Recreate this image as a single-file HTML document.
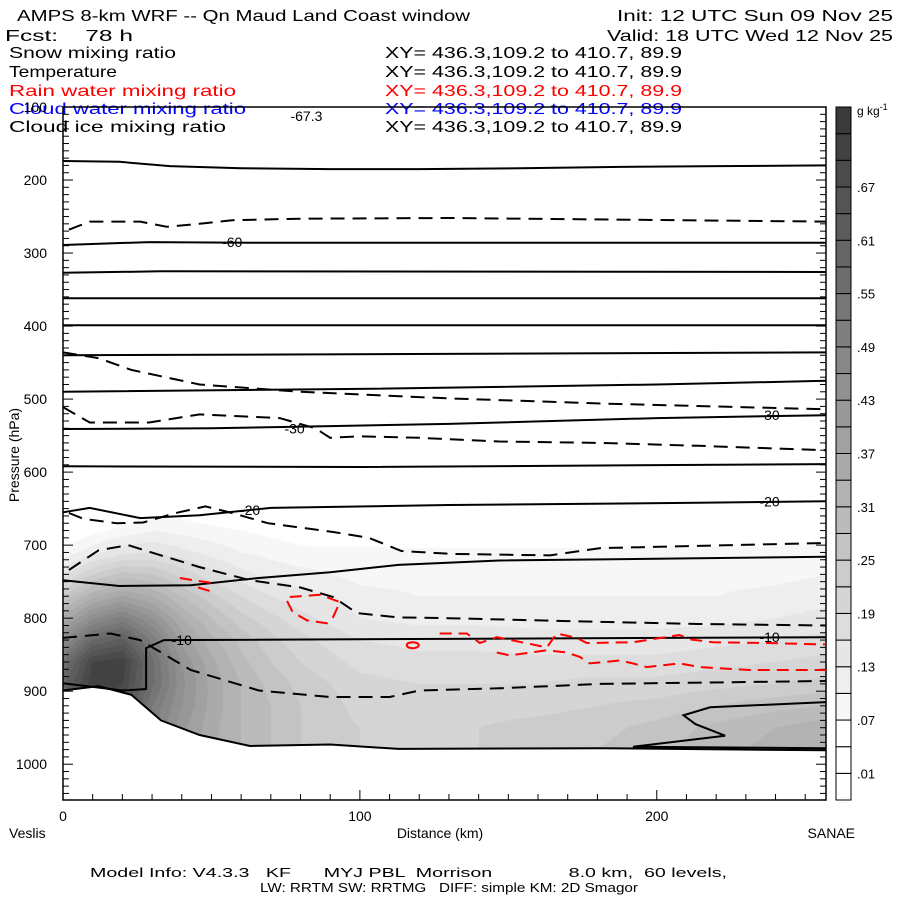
<!DOCTYPE html>
<html><head><meta charset="utf-8">
<style>
html,body{margin:0;padding:0;background:#fff;}
#wrap{position:relative;width:900px;height:900px;overflow:hidden;}
#shade{position:absolute;left:63px;top:107px;}
svg{position:absolute;left:0;top:0;}
text{font-family:"Liberation Sans",sans-serif;white-space:pre;}
</style></head>
<body>
<div id="wrap">
<canvas id="shade" width="763" height="693"></canvas>
<svg id="chart" width="900" height="900" xmlns="http://www.w3.org/2000/svg" xml:space="preserve">
<g font-size="16">
<text x="17" y="21" textLength="453" lengthAdjust="spacingAndGlyphs">AMPS 8-km WRF -- Qn Maud Land Coast window</text>
<text x="617" y="21" textLength="276" lengthAdjust="spacingAndGlyphs">Init: 12 UTC Sun 09 Nov 25</text>
<text x="5" y="41" textLength="128" lengthAdjust="spacingAndGlyphs">Fcst:    78 h</text>
<text x="607" y="41" textLength="286" lengthAdjust="spacingAndGlyphs">Valid: 18 UTC Wed 12 Nov 25</text>
<text x="9" y="58" textLength="167" lengthAdjust="spacingAndGlyphs">Snow mixing ratio</text>
<text x="385" y="58" textLength="297" lengthAdjust="spacingAndGlyphs">XY= 436.3,109.2 to 410.7, 89.9</text>
<text x="9" y="77" textLength="108" lengthAdjust="spacingAndGlyphs">Temperature</text>
<text x="385" y="77" textLength="297" lengthAdjust="spacingAndGlyphs">XY= 436.3,109.2 to 410.7, 89.9</text>
<text x="9" y="96" fill="#ff0000" textLength="227" lengthAdjust="spacingAndGlyphs">Rain water mixing ratio</text>
<text x="385" y="96" fill="#ff0000" textLength="297" lengthAdjust="spacingAndGlyphs">XY= 436.3,109.2 to 410.7, 89.9</text>
<text x="9" y="114" fill="#0000ff" textLength="237" lengthAdjust="spacingAndGlyphs">Cloud water mixing ratio</text>
<text x="385" y="114" fill="#0000ff" textLength="297" lengthAdjust="spacingAndGlyphs">XY= 436.3,109.2 to 410.7, 89.9</text>
<text x="9" y="132" textLength="217" lengthAdjust="spacingAndGlyphs">Cloud ice mixing ratio</text>
<text x="385" y="132" textLength="297" lengthAdjust="spacingAndGlyphs">XY= 436.3,109.2 to 410.7, 89.9</text>
</g>
<g id="axes"></g>
<g id="lines"></g>
<g id="cbar"></g>
<g font-size="13">
<text x="90" y="877" textLength="637" lengthAdjust="spacingAndGlyphs">Model Info: V4.3.3   KF      MYJ PBL  Morrison              8.0 km,  60 levels,</text>
<text x="260" y="892" textLength="378" lengthAdjust="spacingAndGlyphs">LW: RRTM SW: RRTMG   DIFF: simple KM: 2D Smagor</text>
</g>
</svg>
</div>
<script>
// ---------- data ----------
const xCols = [0,10,20,30,40,50,60,70,80,90,100,120,140,160,180,200,220,240,257];
const pRows = [590,620,650,680,710,740,770,800,830,860,890,920,950,980,1010];
const q590 = [0,0,0,0,0,0,0,0,0,0,0,0,0,0,0,0,0,0,0];
const q620 = [0,0,0.01,0.02,0.01,0.01,0,0,0,0,0,0,0,0,0,0,0,0,0];
const q650 = [0.01,0.02,0.03,0.05,0.05,0.04,0.03,0.02,0.02,0.01,0.01,0,0,0,0,0,0,0,0];
const q680 = [0.03,0.06,0.08,0.1,0.09,0.08,0.07,0.06,0.05,0.04,0.04,0.03,0.03,0.03,0.03,0.03,0.04,0.04,0.05];
const q710 = [0.08,0.12,0.15,0.16,0.14,0.12,0.1,0.09,0.08,0.08,0.08,0.08,0.08,0.08,0.08,0.08,0.08,0.08,0.09];
const q740 = [0.15,0.22,0.26,0.25,0.21,0.17,0.14,0.12,0.11,0.1,0.09,0.09,0.09,0.09,0.09,0.09,0.09,0.09,0.1];
const q770 = [0.25,0.33,0.37,0.34,0.28,0.23,0.19,0.16,0.14,0.13,0.11,0.1,0.1,0.1,0.1,0.1,0.1,0.11,0.12];
const q800 = [0.35,0.45,0.5,0.43,0.34,0.28,0.23,0.2,0.17,0.15,0.13,0.12,0.12,0.12,0.12,0.12,0.12,0.13,0.14];
const q830 = [0.45,0.58,0.62,0.51,0.39,0.32,0.27,0.23,0.2,0.18,0.16,0.15,0.15,0.14,0.14,0.14,0.15,0.16,0.17];
const q860 = [0.55,0.7,0.72,0.56,0.43,0.35,0.29,0.25,0.22,0.2,0.18,0.17,0.17,0.17,0.17,0.17,0.18,0.19,0.2];
const q890 = [0.6,0.72,0.7,0.56,0.44,0.36,0.31,0.27,0.24,0.22,0.2,0.19,0.19,0.19,0.2,0.2,0.21,0.22,0.23];
const q920 = [0.6,0.7,0.68,0.52,0.43,0.36,0.31,0.28,0.25,0.23,0.21,0.2,0.21,0.21,0.22,0.23,0.25,0.27,0.28];
const q950 = [0.6,0.7,0.66,0.5,0.41,0.35,0.31,0.28,0.25,0.23,0.22,0.21,0.22,0.23,0.24,0.26,0.29,0.31,0.33];
const q980 = [0.6,0.7,0.66,0.5,0.41,0.35,0.31,0.28,0.25,0.23,0.22,0.21,0.22,0.23,0.25,0.27,0.3,0.32,0.34];
const q1010 = q980;
const snowRows = [q590,q620,q650,q680,q710,q740,q770,q800,q830,q860,q890,q920,q950,q980,q1010];

const groundKm = [0,12,23,33,46,63,90,113,181,257];
const groundP  = [899,893,905,940,960,975,973,979,978,981];

const t1Km=[0,19,36,60,90,120,154,188,221,257], t1P=[174,175,181,184,185,185,184,182,181,180];
const t2Km=[0,29,63,257], t2P=[289,285,286,286];
const t3Km=[0,33,257], t3P=[327,325,326];
const t4Km=[0,257], t4P=[362,362];
const t5Km=[0,257], t5P=[399,399];
const t6Km=[0,257], t6P=[440,436];
const t7Km=[0,100,200,257], t7P=[490,486,480,475];
const t8Km=[0,50,90,130,200,257], t8P=[541,540,537,534,526,522];
const t9Km=[0,100,257], t9P=[592,593,589];
const t10Km=[0,9,26,46,70,130,214,257], t10P=[655,649,663,659,649,645,642,640];
const t11Km=[0,19,43,66,90,113,147,214,257], t11P=[748,756,755,745,737,727,721,718,716];
const t12Km=[257,34,28,28,20,0], t12P=[826,830,841,897,899,889];
const t13Km=[257,218,209,213,223,192,257], t13P=[915,922,933,945,961,976,978];
const dAKm=[2,9,26,35,46,57,80,130,257], dAP=[268,257,257,264,260,255,253,252,257];
const dBKm=[0,12,23,46,80,130,181,257], dBP=[436,444,460,480,490,499,506,514];
const dCKm=[0,9,29,46,73,85,90,100,120,147,181,214,257], dCP=[511,532,532,521,526,540,553,551,553,558,560,564,570];
const dDKm=[2,7,18,27,38,48,57,69,91,103,114,131,164,181,214,257], dDP=[656,664,670,669,656,647,656,670,682,690,708,712,714,704,701,697];
const dEKm=[2,12,22,29,46,63,80,91,99,113,130,170,214,257], dEP=[734,707,700,709,730,748,758,771,793,799,800,804,808,810];
const dFKm=[0,16,26,43,66,90,110,120,147,181,257], dFP=[827,821,830,871,899,908,908,899,896,890,886];
const r1Km=[39.4,43.8,50.5], r1P=[745,748,752];
const r2Km=[45.5,50.5], r2P=[758,764];
const r3Km=[76.4,86.5,93.3,90.9,88.9,82.2,77.4,75.4], r3P=[771,768,778,799,807,803,792,776];
const r4Km=[126.9,136,140.4,146.1,163,166.3,173.1,176.4,191.9,207.7,211.1,218.9,237,257], r4P=[821,821,834,826,840,821,827,834,833,823,829,833,834,836];
const r5Km=[146.1,150.5,163,169.7,174.1,177.4,187.5,191.9,196.6,207.7,214.5,231.3,257], r5P=[847,851,844,847,853,862,858,862,867,862,867,871,871];
const r6Km=[117.8], r6P=[837];

const yTicks=[100,200,300,400,500,600,700,800,900,1000];
const xTicks=[0,100,200];
const cbarLabels=['.01','.07','.13','.19','.25','.31','.37','.43','.49','.55','.61','.67'];
const isoLabels=['-67.3','-60','-30','-20','-10','-10','-30','-20'];
const isoLabelKm=[82,57,78,63,40,238,238,238];
const isoLabelP=[112,285,540,652,830,826,522,640];

// ---------- scales ----------
const X0=63,X1=826,Y0=107,Y1=800,KMAX=257,PMIN=100,PMAX=1049;
const sx=k=>X0+(k/KMAX)*(X1-X0);
const sy=p=>Y0+(p-PMIN)/(PMAX-PMIN)*(Y1-Y0);
const ikm=x=>(x-X0)/(X1-X0)*KMAX;
const ip=y=>PMIN+(y-Y0)/(Y1-Y0)*(PMAX-PMIN);
const NS='http://www.w3.org/2000/svg';
function mk(tag,attrs,parent){const e=document.createElementNS(NS,tag);for(const k in attrs)e.setAttribute(k,attrs[k]);parent.appendChild(e);return e;}
function interp1(xs,ys,x){if(x<=xs[0])return ys[0];for(let i=1;i<xs.length;i++){if(x<=xs[i]){const t=(x-xs[i-1])/(xs[i]-xs[i-1]);return ys[i-1]+t*(ys[i]-ys[i-1]);}}return ys[ys.length-1];}
function levelColor(k){if(k<=2)return 255;return Math.round(247-(k-3)*8.6);}
function levelOf(v){if(v<0.01)return 0;return Math.min(25,1+Math.floor((v-0.01)/0.03));}

// ---------- shading ----------
const cv=document.getElementById('shade');const ctx=cv.getContext('2d');
const img=ctx.createImageData(cv.width,cv.height);
for(let py=0;py<cv.height;py++){
  const p=ip(Y0+py+0.5);
  let ri=0;while(ri<pRows.length-2&&p>pRows[ri+1])ri++;
  let tr=(p-pRows[ri])/(pRows[ri+1]-pRows[ri]);tr=Math.max(0,Math.min(1,tr));
  for(let px=0;px<cv.width;px++){
    const k=ikm(X0+px+0.5);
    let g=255;
    const gp=interp1(groundKm,groundP,k);
    if(p<=gp){
      let ci=0;while(ci<xCols.length-2&&k>xCols[ci+1])ci++;
      let tc=(k-xCols[ci])/(xCols[ci+1]-xCols[ci]);tc=Math.max(0,Math.min(1,tc));
      const a=snowRows[ri][ci],b=snowRows[ri][ci+1],c=snowRows[ri+1][ci],d=snowRows[ri+1][ci+1];
      const v=(a*(1-tc)+b*tc)*(1-tr)+(c*(1-tc)+d*tc)*tr;
      g=levelColor(levelOf(v));
    }
    const o=(py*cv.width+px)*4;img.data[o]=g;img.data[o+1]=g;img.data[o+2]=g;img.data[o+3]=255;
  }
}
ctx.putImageData(img,0,0);

// ---------- axes ----------
const ax=document.getElementById('axes');
const frame=mk('rect',{x:X0,y:Y0,width:X1-X0,height:Y1-Y0,fill:'none',stroke:'#000','stroke-width':1.5},ax);


for(let p=100;p<=1040;p+=10){
  const maj=p%100===0;const L=maj?10:6;
  const t=mk('line',{x1:X0,y1:sy(p),x2:X0+L,y2:sy(p),stroke:'#000','stroke-width':1},ax);
  
  
  const t2=mk('line',{x1:X1,y1:sy(p),x2:X1-L,y2:sy(p),stroke:'#000','stroke-width':1},ax);
  
  
}
yTicks.forEach(p=>{
  const t=mk('text',{x:47,y:sy(p)+5,'font-size':14,'text-anchor':'end'},ax);t.textContent=p;
  
  
});
for(let k=0;k<=250;k+=10){
  const maj=k%100===0;const L=maj?10:6;
  const t=mk('line',{x1:sx(k),y1:Y1,x2:sx(k),y2:Y1-L,stroke:'#000','stroke-width':1},ax);
  
  
}
xTicks.forEach(k=>{
  const t=mk('text',{x:sx(k),y:821,'font-size':14,'text-anchor':'middle'},ax);t.textContent=k;
  
  
});
[['Veslis',9,'start','left-endpoint-label'],['Distance (km)',440,'middle','x-axis-title'],['SANAE',855,'end','right-endpoint-label']].forEach(a=>{
  const t=mk('text',{x:a[1],y:838,'font-size':14,'text-anchor':a[2]},ax);t.textContent=a[0];
  
  
});
const yt=mk('text',{x:19,y:455,'font-size':14,'text-anchor':'middle',transform:'rotate(-90 19 455)'},ax);yt.textContent='Pressure (hPa)';



// ---------- contours ----------
const lg=document.getElementById('lines');
function line(km,pp,color,dash,name){
  const d=km.map((k,i)=>(i?'L':'M')+sx(k).toFixed(1)+','+sy(pp[i]).toFixed(1)).join('');
  const e=mk('path',{d:d,fill:'none',stroke:color,'stroke-width':2,'stroke-dasharray':dash||'none'},lg);
  
  
}
[[t1Km,t1P],[t2Km,t2P],[t3Km,t3P],[t4Km,t4P],[t5Km,t5P],[t6Km,t6P],[t7Km,t7P],[t8Km,t8P],[t9Km,t9P],[t10Km,t10P],[t11Km,t11P],[t12Km,t12P],[groundKm,groundP],[t13Km,t13P]].forEach(a=>line(a[0],a[1],'#000',null,'isotherm'));
[[dAKm,dAP],[dBKm,dBP],[dCKm,dCP],[dDKm,dDP],[dEKm,dEP],[dFKm,dFP]].forEach(a=>line(a[0],a[1],'#000','14 8','cloud-ice-contour'));
[[r1Km,r1P],[r2Km,r2P],[r4Km,r4P],[r5Km,r5P]].forEach(a=>line(a[0],a[1],'#ff0000','12 7','rain-contour'));
line(r3Km.concat([r3Km[0]]),r3P.concat([r3P[0]]),'#ff0000','12 7','rain-contour');
const el=mk('ellipse',{cx:sx(r6Km[0]),cy:sy(r6P[0]),rx:6,ry:3,fill:'none',stroke:'#ff0000','stroke-width':2},lg);


isoLabelKm.forEach((k,i)=>{
  const x=sx(k),y=sy(isoLabelP[i]);
  const t=mk('text',{x:x,y:y+5,'font-size':14,'text-anchor':'middle'},lg);t.textContent=isoLabels[i];
  
  
});

// ---------- colorbar ----------
const cb=document.getElementById('cbar');
const bh=(Y1-Y0)/26;
for(let k=0;k<26;k++){
  const g=levelColor(k);
  const r=mk('rect',{x:836,y:Y1-(k+1)*bh,width:15,height:bh,fill:`rgb(${g},${g},${g})`,stroke:'#000','stroke-width':1},cb);
  
  
}
cbarLabels.forEach((s,i)=>{
  const t=mk('text',{x:857,y:Y1-(1+2*i)*bh+5,'font-size':13},cb);t.textContent=s;
  
  
});
const u=mk('text',{x:857,y:115,'font-size':12},cb);u.innerHTML='g kg<tspan dy="-5" font-size="9">-1</tspan>';


</script>
</body></html>
